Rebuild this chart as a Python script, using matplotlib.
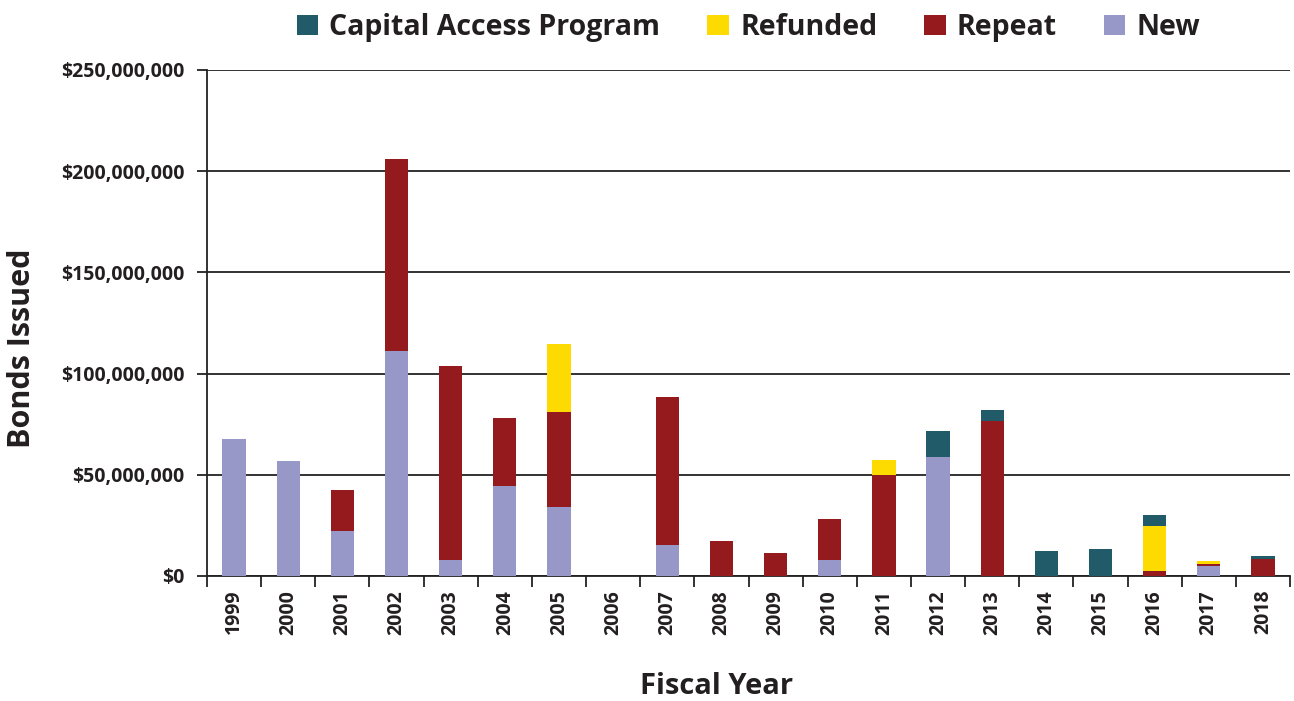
import numpy as np
import matplotlib
matplotlib.use("Agg")
from matplotlib import pyplot as plt
from matplotlib.ticker import FuncFormatter, FixedLocator

plt.rcParams['font.family'] = ['Open Sans', 'DejaVu Sans']
plt.rcParams['font.weight'] = 'bold'

# Data (millions of dollars)
years = ['1999', '2000', '2001', '2002', '2003', '2004', '2005', '2006', '2007', '2008',
         '2009', '2010', '2011', '2012', '2013', '2014', '2015', '2016', '2017', '2018']
new = [67.6, 56.8, 22.2, 111.0, 7.9, 44.4, 34.0, 0, 15.3, 0,
       0, 7.9, 0, 58.7, 0, 0, 0, 0, 4.9, 0]
repeat = [0, 0, 20.2, 94.8, 95.8, 33.6, 47.0, 0, 73.0, 17.3,
          11.4, 20.2, 49.7, 0, 76.5, 0, 0, 2.5, 1.0, 8.4]
refunded = [0, 0, 0, 0, 0, 0, 33.5, 0, 0, 0,
            0, 0, 7.6, 0, 0, 0, 0, 22.2, 1.5, 0]
cap = [0, 0, 0, 0, 0, 0, 0, 0, 0, 0,
       0, 0, 0, 12.9, 5.4, 12.3, 13.3, 5.4, 0, 1.5]

c_cap = '#215B69'
c_ref = '#FDDA00'
c_rep = '#951A1E'
c_new = '#9797C8'
txt = '#231F20'

new = np.array(new) * 1e6
repeat = np.array(repeat) * 1e6
refunded = np.array(refunded) * 1e6
cap = np.array(cap) * 1e6
x = np.arange(len(years))

W, H = 1294, 701
fig = plt.figure(figsize=(W/100, H/100), dpi=100)
ax = fig.add_axes([207/W, 1 - 576/H, (1290-207)/W, (576-70)/H])

w = 0.43
ax.bar(x, new, w, color=c_new, label='New', zorder=3)
ax.bar(x, repeat, w, bottom=new, color=c_rep, label='Repeat', zorder=3)
ax.bar(x, refunded, w, bottom=new+repeat, color=c_ref, label='Refunded', zorder=3)
ax.bar(x, cap, w, bottom=new+repeat+refunded, color=c_cap, label='Capital Access Program', zorder=3)

ax.set_xlim(-0.5, len(years) - 0.5)
ax.set_ylim(0, 250e6)
ax.set_yticks(np.arange(0, 250e6 + 1, 50e6))
ax.yaxis.set_major_formatter(FuncFormatter(lambda v, p: '${:,.0f}'.format(v)))
ax.yaxis.grid(True, color='#222222', linewidth=1.3, zorder=0)

ax.set_xticks(x)
ax.set_xticklabels(years, rotation=90, fontsize=14, fontweight='bold', color=txt)
ax.tick_params(axis='x', which='major', length=0, pad=10)
ax.xaxis.set_minor_locator(FixedLocator(np.arange(-0.5, len(years), 1)))
ax.tick_params(axis='x', which='minor', length=8, width=1.3, color='#222222')
ax.tick_params(axis='y', length=7, width=1.3, color='#222222', labelsize=14,
               labelcolor=txt, pad=9)
for lab in ax.get_yticklabels():
    lab.set_fontweight('bold')

for s in ['top', 'right']:
    ax.spines[s].set_visible(False)
for s in ['left', 'bottom']:
    ax.spines[s].set_linewidth(1.3)
    ax.spines[s].set_color('#222222')

fig.text(22/W, 1 - 348/H, 'Bonds Issued', rotation=90, ha='center', va='center',
         fontsize=22, fontweight='bold', color=txt)
fig.text(717/W, 1 - 686/H, 'Fiscal Year', ha='center', va='center',
         fontsize=21, fontweight='bold', color=txt)

handles, labels = ax.get_legend_handles_labels()
leg = ax.legend(handles[::-1], labels[::-1], loc='center', bbox_to_anchor=(0.5, 1.084),
                ncol=4, frameon=False, fontsize=20.5, handlelength=0.75, handleheight=0.75,
                columnspacing=1.65, handletextpad=0.4)
for t in leg.get_texts():
    t.set_color(txt)

fig.savefig('out.png', dpi=100)
